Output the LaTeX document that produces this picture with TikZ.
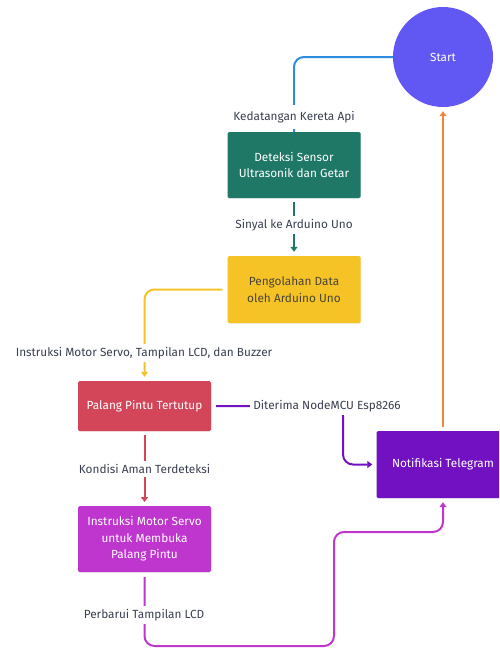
\documentclass[tikz,border=0pt]{standalone}
\usepackage{fontspec}
\setmainfont{Fira Sans}
\usetikzlibrary{arrows.meta,shadows}
\definecolor{cstart}{HTML}{6157F3}
\definecolor{cgreen}{HTML}{1F7866}
\definecolor{cyellow}{HTML}{F6C326}
\definecolor{cred}{HTML}{D3465A}
\definecolor{cmag}{HTML}{BF36CE}
\definecolor{cpurp}{HTML}{7111C2}
\definecolor{cblue}{HTML}{2F8BE0}
\definecolor{corange}{HTML}{F0883C}
\definecolor{ctext}{HTML}{3A4050}
\definecolor{cytext}{HTML}{4A4536}
\tikzset{
  boxnode/.style={rectangle, rounded corners=1.5pt, minimum width=133pt, minimum height=66pt,
    align=center, text=white, font=\fontsize{11.8}{16.5}\selectfont,
    drop shadow={opacity=0.12, shadow xshift=0.6pt, shadow yshift=-0.8pt}},
  lbl/.style={fill=white, text=ctext, font=\fontsize{11.8}{14}\selectfont, inner sep=3pt},
  conn/.style={line width=2pt, rounded corners=10pt},
  arr/.style={conn, -{Triangle[width=7pt,length=5pt]}, shorten >=4pt},
}
\begin{document}
\begin{tikzpicture}[x=1pt,y=-1pt]
\clip (0,0) rectangle (499,648);
\fill[white] (0,0) rectangle (499,648);

\node[circle, fill=cstart, minimum size=100pt, text=white, font=\fontsize{11.8}{14}\selectfont] (start) at (443,57) {Start};
\node[boxnode, fill=cgreen] (det) at (294,165) {Deteksi Sensor\\Ultrasonik dan Getar};
\node[boxnode, fill=cyellow, text=cytext, minimum height=67pt] (peng) at (294,289.5) {Pengolahan Data\\oleh Arduino Uno};
\node[boxnode, fill=cred, minimum height=50pt] (pal) at (144.5,406) {Palang Pintu Tertutup};
\node[boxnode, fill=cmag] (ins) at (144.5,539) {Instruksi Motor Servo\\untuk Membuka\\Palang Pintu};
\node[boxnode, fill=cpurp, minimum height=67pt] (notif) at (443,464.5) {Notifikasi Telegram};

% Start -> Deteksi
\draw[conn, cblue] (start.west) -| (det.north);
\node[lbl, inner xsep=5pt, inner ysep=6pt] (l1) at (294,117) {Kedatangan Kereta Api};

% Deteksi -> Pengolahan
\draw[arr, cgreen, shorten <=4pt] (det.south) -- (peng.north);
\node[lbl] (l2) at (294,225) {Sinyal ke Arduino Uno};

% Pengolahan -> Palang
\draw[arr, cyellow, shorten <=5pt] (peng.west) -| (pal.north);
\node[lbl] (l3) at (144,353) {Instruksi Motor Servo, Tampilan LCD, dan Buzzer};

% Palang -> Notifikasi
\coordinate (pc) at (343,464.5);
\draw[arr, cpurp, shorten <=5pt] (pal.east) -| (pc) -- (notif.west);
\node[lbl] (l4) at (327,406) {Diterima NodeMCU Esp8266};

% Notifikasi -> Start
\draw[arr, corange, rounded corners=0pt, shorten <=4pt] (notif.north) -- (start.south);

% Palang -> Instruksi
\draw[arr, cred, shorten <=4pt] (pal.south) -- (ins.south |- 0,506);
\node[lbl] (l5) at (144.5,469) {Kondisi Aman Terdeteksi};

% Instruksi -> Notifikasi
\coordinate (m1) at (144.5,646);
\coordinate (m2) at (334,646);
\coordinate (m3) at (334,532);
\coordinate (m4) at (443,532);
\draw[arr, cmag, shorten <=5pt] (ins.south) -- (m1) -- (m2) -- (m3) -- (m4) -- (notif.south);
\node[lbl] (l6) at (144,615) {Perbarui Tampilan LCD};
\end{tikzpicture}
\end{document}
